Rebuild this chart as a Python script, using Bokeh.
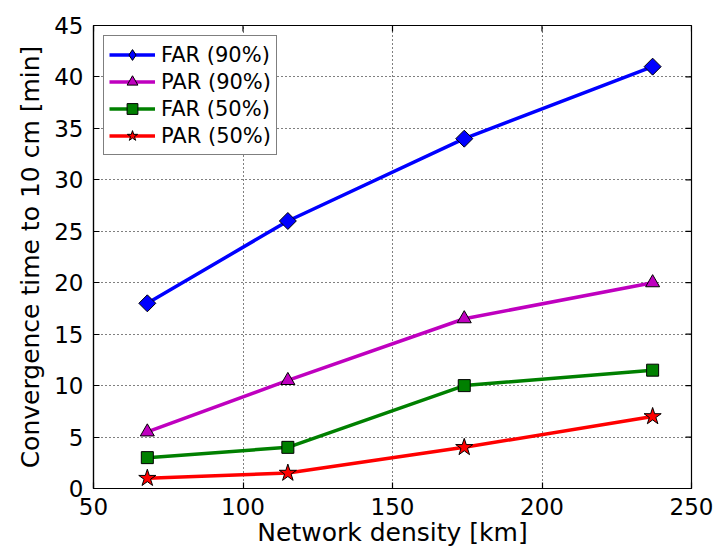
import math
from bokeh.plotting import figure
from bokeh.models import Range1d, Legend, LegendItem, FixedTicker, CDSView, IndexFilter, ColumnDataSource
from bokeh.embed import file_html
from bokeh.resources import INLINE

density = [68, 115, 174, 237]
far90 = [18, 26, 34, 41]
par90 = [5.5, 10.5, 16.5, 20]
far50 = [3, 4, 10, 11.5]
par50 = [1, 1.5, 4, 7]
xticks = [50, 100, 150, 200, 250]
yticks = [0, 5, 10, 15, 20, 25, 30, 35, 40, 45]

FONT = "DejaVu Sans"
XMIN, XMAX, YMIN, YMAX = 50, 250, 0, 45

p = figure(width=719, height=554, output_backend="svg", toolbar_location=None,
           x_range=Range1d(XMIN, XMAX), y_range=Range1d(YMIN, YMAX),
           min_border_left=93, min_border_right=28, min_border_top=25, min_border_bottom=66)
p.background_fill_color = "white"
p.border_fill_color = "white"
p.outline_line_color = "black"
p.outline_line_width = 1.2

for ax in (p.xaxis[0], p.yaxis[0]):
    ax.major_tick_in = 6
    ax.major_tick_out = 0
    ax.minor_tick_in = 0
    ax.minor_tick_out = 0
    ax.axis_line_color = "black"
    ax.axis_line_width = 1.2
    ax.major_tick_line_width = 1.2
    ax.major_label_text_font = FONT
    ax.major_label_text_font_size = "23px"
    ax.major_label_text_color = "black"
    ax.axis_label_text_font = FONT
    ax.axis_label_text_font_size = "25px"
    ax.axis_label_text_font_style = "normal"
    ax.axis_label_text_color = "black"

p.xaxis[0].ticker = FixedTicker(ticks=xticks)
p.yaxis[0].ticker = FixedTicker(ticks=yticks)
p.xaxis[0].axis_label = "Network density [km]"
p.yaxis[0].axis_label = "Convergence time to 10 cm [min]"
p.xaxis[0].major_label_standoff = 9
p.yaxis[0].major_label_standoff = 10
p.xaxis[0].axis_label_standoff = 0
p.yaxis[0].axis_label_standoff = 6

# inward ticks on the top and right frame edges (clipped to the frame)
p.scatter([XMAX] * len(yticks), yticks, marker="dash", size=12, line_color="black", line_width=1.2)
p.scatter(xticks, [YMAX] * len(xticks), marker="dash", angle=math.pi / 2, size=12,
          line_color="black", line_width=1.2)

p.xgrid.ticker = FixedTicker(ticks=xticks)
p.ygrid.ticker = FixedTicker(ticks=yticks)
for g in (p.xgrid[0], p.ygrid[0]):
    g.grid_line_color = "black"
    g.grid_line_dash = "1 3"
    g.grid_line_width = 1

items = []
series = [
    ("FAR (90%)", far90, "#0000ff", "square", 12, math.pi / 4, "diamond"),
    ("PAR (90%)", par90, "#bf00bf", "triangle", 14, 0, "triangle"),
    ("FAR (50%)", far50, "#008000", "square", 12, 0, "square"),
    ("PAR (50%)", par50, "#ff0000", "star", 18, 0, "star"),
]
for name, ys, col, mk, sz, ang, legmk in series:
    src = ColumnDataSource(dict(x=density, y=ys))
    l = p.line("x", "y", source=src, line_color=col, line_width=3.5)
    s_leg = None
    if legmk != mk:
        # legend-only glyph (legend ignores marker angle); hidden beneath the real marker
        s_leg = p.scatter("x", "y", source=src, marker=legmk, size=1, fill_color=col,
                          line_color="black", line_width=1,
                          view=CDSView(filter=IndexFilter([0])))
    s = p.scatter("x", "y", source=src, marker=mk, size=sz, angle=ang, fill_color=col,
                  line_color="black", line_width=1)
    items.append(LegendItem(label=name, renderers=[l, s_leg if s_leg is not None else s]))

leg = Legend(items=items, location="top_left")
leg.label_text_font = FONT
leg.label_text_font_size = "21px"
leg.label_text_color = "black"
leg.border_line_color = "black"
leg.border_line_width = 1.2
leg.background_fill_alpha = 1
leg.margin = 10
leg.padding = 5
leg.spacing = 0
leg.glyph_width = 46
leg.glyph_height = 27
leg.label_height = 27
leg.label_standoff = 6
p.add_layout(leg)

open("out.html", "w").write(file_html(p, INLINE))
